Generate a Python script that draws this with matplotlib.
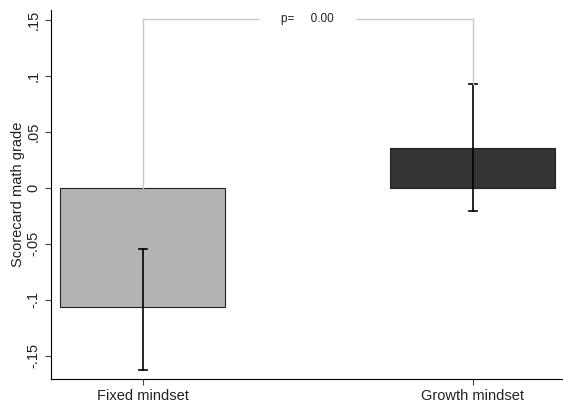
import matplotlib.pyplot as plt

plt.rcParams['font.family'] = ['Liberation Sans', 'DejaVu Sans']

groups = ['Fixed mindset', 'Growth mindset']
means = [-0.107, 0.0355]
ci_low = [-0.163, -0.021]
ci_high = [-0.055, 0.0926]
colors = ['#b3b3b3', '#333333']
p_text = 'p=     0.00'
p_level = 0.151

fig = plt.figure(figsize=(5.63, 4.07), dpi=100)
ax = fig.add_axes([0.0906, 0.0688, 0.907, 0.9066])

x = list(range(len(groups)))
ax.bar(x, means, width=0.5, color=colors, edgecolor='#222222', linewidth=0.8)
for xi, lo, hi in zip(x, ci_low, ci_high):
    ax.plot([xi, xi], [lo, hi], color='black', lw=1.2)
    ax.plot([xi - 0.012, xi + 0.012], [lo, lo], color='black', lw=1.2)
    ax.plot([xi - 0.012, xi + 0.012], [hi, hi], color='black', lw=1.2)

# p-value bracket
gray = '#c8c8c8'
ax.plot([x[0], x[0]], [max(means[0], 0), p_level], color=gray, lw=1)
ax.plot([x[1], x[1]], [ci_high[1], p_level], color=gray, lw=1)
ax.plot([x[0], 0.35], [p_level, p_level], color=gray, lw=1)
ax.plot([0.65, x[1]], [p_level, p_level], color=gray, lw=1)
ax.text(0.5, p_level, p_text, ha='center', va='center', fontsize=8.5, color='#222222')

ax.set_xlim(-0.278, 1.27)
ax.set_ylim(-0.171, 0.159)
ax.set_xticks(x)
ax.set_xticklabels(groups, fontsize=10.5, color='#222222')
yt = [-0.15, -0.1, -0.05, 0, 0.05, 0.1, 0.15]
ax.set_yticks(yt)
ax.set_yticklabels(['-.15', '-.1', '-.05', '0', '.05', '.1', '.15'],
                   rotation=90, va='center', fontsize=10.5, color='#222222')
ax.set_ylabel('Scorecard math grade', fontsize=10.5, color='#222222', labelpad=1)
ax.spines['top'].set_visible(False)
ax.spines['right'].set_visible(False)
ax.tick_params(length=4, width=0.8, color='#444444')

fig.savefig('out.png', dpi=100)
